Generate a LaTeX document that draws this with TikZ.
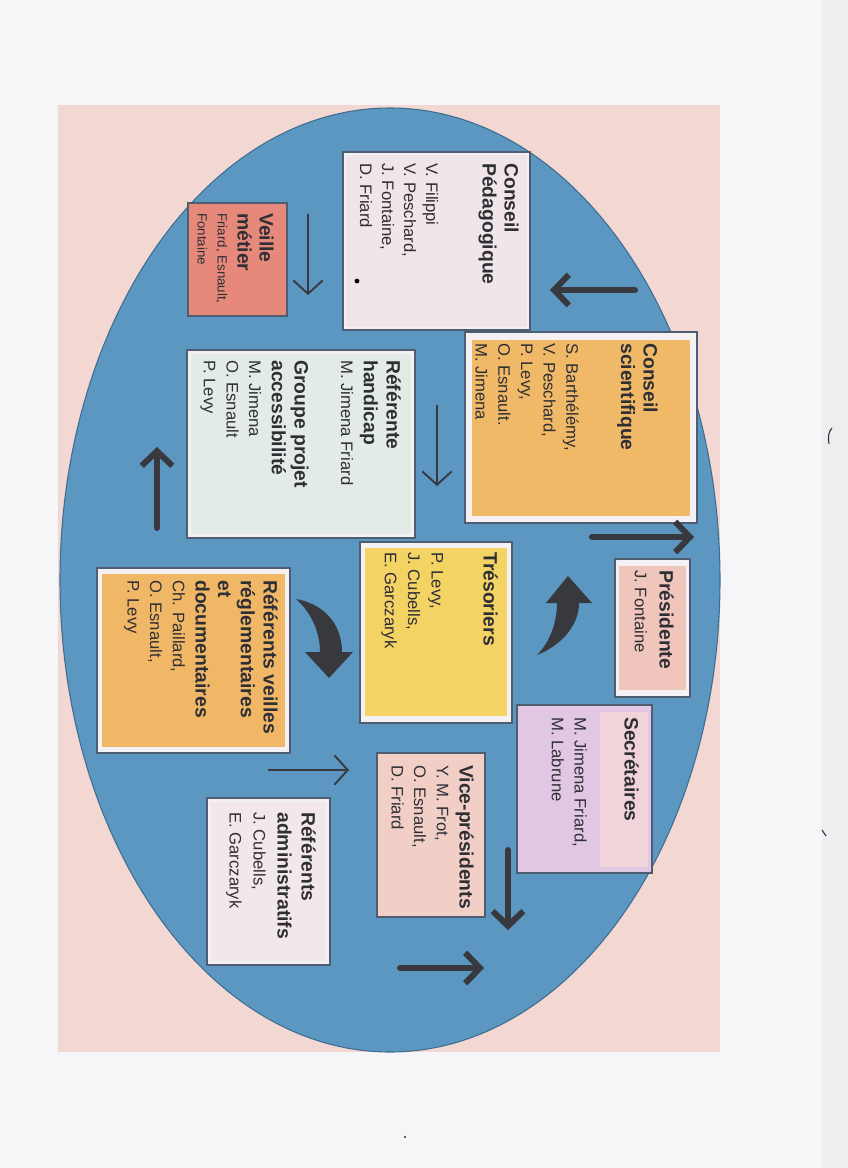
\documentclass[tikz,border=0pt]{standalone}
\usepackage{fontspec}
\setmainfont{Liberation Sans}
\usetikzlibrary{arrows.meta}
\definecolor{page}{HTML}{F6F6F8}
\definecolor{pageedge}{HTML}{EEEEF1}
\definecolor{pinkbg}{HTML}{F2D7D3}
\definecolor{ellfill}{HTML}{5B97C1}
\definecolor{elledge}{HTML}{3F6E91}
\definecolor{ink}{HTML}{2E2E35}
\definecolor{edge}{HTML}{4E5E70}
\definecolor{framew}{HTML}{F3F1F3}
\definecolor{cpfill}{HTML}{F0E5E8}
\definecolor{vmfill}{HTML}{E6897A}
\definecolor{csfill}{HTML}{F0B967}
\definecolor{rhfill}{HTML}{E3EBE6}
\definecolor{prfill}{HTML}{EFC5BC}
\definecolor{trfill}{HTML}{F4D365}
\definecolor{rvfill}{HTML}{F0B866}
\definecolor{sefill}{HTML}{E2C7E4}
\definecolor{sepink}{HTML}{F1D4D9}
\definecolor{vpfill}{HTML}{F2CFC6}
\definecolor{rafill}{HTML}{F2E8EA}
\definecolor{arrowc}{HTML}{38383F}
\newcommand\panel[6]{\node[#6, anchor=north west, inner sep=0pt, outer sep=0pt,
  minimum width={(#4-#2)*0.75pt}, minimum height={(#5-#3)*0.75pt}] (#1) at (#2,#3) {};}
\newcommand\ttl[1]{{\bfseries\fontsize{14.5}{16.5}\selectfont #1}}
\begin{document}
\begin{tikzpicture}[x=0.75pt,y=-0.75pt,
  txt/.style={rotate=-90, anchor=north west, inner sep=0pt, align=left, text=ink},
  boxline/.style={draw=edge, line width=0.8pt},
  bigarrow/.style={draw=arrowc, line width=4.5pt, line cap=round,
    -{Straight Barb[length=11pt,width=23pt,line width=4.5pt]}},
  thinarrow/.style={draw=arrowc, line width=1.4pt,
    -{Straight Barb[length=10pt,width=22pt,line width=1.4pt]}},
  curvearrow/.style={fill=arrowc, draw=none},
]
\useasboundingbox (0,0) rectangle (848,1168);
\fill[page] (0,0) rectangle (848,1168);
\fill[pageedge] (822,0) rectangle (848,1168);
\fill[pinkbg] (58,105) rectangle (720,1052);
\draw[elledge, fill=ellfill, line width=0.8pt] (390,580) ellipse [x radius=247.5pt, y radius=354pt];

% ---- boxes ----
\panel{cpbox}{343}{152}{530}{330}{boxline, fill=framew}
\panel{cpin}{346}{155}{527}{327}{fill=cpfill}
\panel{vmbox}{188}{203}{287}{316}{boxline, fill=vmfill}
\panel{csbox}{465}{332}{697}{523}{boxline, fill=framew}
\panel{csin}{472}{340}{690}{516}{fill=csfill}
\panel{rhbox}{187}{350}{415}{538}{boxline, fill=framew}
\panel{rhin}{191}{354}{411}{534}{fill=rhfill}
\panel{prbox}{615}{559}{690}{697}{boxline, fill=framew}
\panel{prin}{619}{566}{686}{690}{fill=prfill}
\panel{trbox}{360}{542}{512}{723}{boxline, fill=framew}
\panel{trin}{365}{548}{507}{716}{fill=trfill}
\panel{rvbox}{97}{568}{290}{753}{boxline, fill=framew}
\panel{rvin}{102}{574}{285}{747}{fill=rvfill}
\panel{sebox}{517}{705}{652}{873}{boxline, fill=sefill}
\panel{sepanel}{600}{712}{648}{867}{fill=sepink}
\panel{vpbox}{377}{753}{485}{917}{boxline, fill=vpfill}
\panel{rabox}{207}{798}{330}{965}{boxline, fill=framew}
\panel{rain}{211}{802}{326}{961}{fill=rafill}
\fill[black] (357,281) circle [radius=1.8pt];

% ---- texts ----
\node[txt, font=\fontsize{12.5}{16.5}\selectfont] (cp) at (519,163)
  {\ttl{Conseil}\\ \ttl{Pédagogique}\\[26pt] V. Filippi\\ V. Peschard,\\ J. Fontaine,\\ D. Friard};
\node[txt, font=\fontsize{10}{15}\selectfont] (vm) at (274,213)
  {\ttl{Veille}\\[1.5pt] \ttl{métier}\\ Friard, Esnault,\\ Fontaine};
\node[txt, font=\fontsize{12.5}{17}\selectfont] (cs) at (658,343)
  {\ttl{Conseil}\\ \ttl{scientifique}\\[24pt] S. Barthélémy,\\ V. Peschard,\\ P. Levy,\\ O. Esnault.\\ M. Jimena};
\node[txt, font=\fontsize{12.5}{17}\selectfont] (rh) at (401,360)
  {\ttl{Référente}\\ \ttl{handicap}\\ M. Jimena Friard\\[18pt] \ttl{Groupe projet}\\ \ttl{accessibilité}\\ M. Jimena\\ O. Esnault\\ P. Levy};
\node[txt, font=\fontsize{12.5}{18.5}\selectfont] (pr) at (674,570)
  {\ttl{Présidente}\\ J. Fontaine};
\node[txt, font=\fontsize{12.5}{17.5}\selectfont] (tr) at (498,552)
  {\ttl{Trésoriers}\\[21.5pt] P. Levy,\\ J. Cubells,\\ E. Garczaryk};
\node[txt, font=\fontsize{12.5}{17}\selectfont] (rv) at (278,580)
  {\ttl{Référents veilles}\\ \ttl{réglementaires}\\ \ttl{et}\\ \ttl{documentaires}\\ Ch. Paillard,\\ O. Esnault,\\ P. Levy};
\node[txt, font=\fontsize{12.5}{17}\selectfont] (se) at (639,717)
  {\ttl{Secrétaires}\\[20.5pt] M. Jimena Friard,\\ M. Labrune};
\node[txt, font=\fontsize{12.5}{17}\selectfont] (vp) at (474,765)
  {\ttl{Vice-présidents}\\ Y. M. Frot,\\ O. Esnault,\\ D. Friard};
\node[txt, font=\fontsize{12.5}{18}\selectfont] (ra) at (316,812)
  {\ttl{Référents}\\ \ttl{administratifs}\\ J. Cubells,\\ E. Garczaryk};

% ---- straight arrows ----
\coordinate (a1s) at (635,290); \coordinate (a1e) at (550,290);
\coordinate (a2s) at (592,537); \coordinate (a2e) at (694,537);
\coordinate (a3s) at (508,850); \coordinate (a3e) at (508,930);
\coordinate (a4s) at (400,968); \coordinate (a4e) at (484,968);
\coordinate (a5s) at (157,528); \coordinate (a5e) at (157,447);
\draw[bigarrow] (a1s) -- (a1e);
\draw[bigarrow] (a2s) -- (a2e);
\draw[bigarrow] (a3s) -- (a3e);
\draw[bigarrow] (a4s) -- (a4e);
\draw[bigarrow] (a5s) -- (a5e);
\coordinate (t1s) at (308,214); \coordinate (t1e) at (308,295);
\coordinate (t2s) at (437,405); \coordinate (t2e) at (437,486);
\coordinate (t3s) at (268,770); \coordinate (t3e) at (349,770);
\draw[thinarrow] (t1s) -- (t1e);
\draw[thinarrow] (t2s) -- (t2e);
\draw[thinarrow] (t3s) -- (t3e);

% ---- curved arrows ----
\fill[curvearrow] (537,655) .. controls (562,645) and (579,625) .. (579,603)
  -- (592,603) -- (568,576) -- (546,603) -- (557,603)
  .. controls (557,624) and (549,643) .. (537,655) -- cycle;
\fill[curvearrow] (296,599) .. controls (324,604) and (342,624) .. (342,652)
  -- (353,652) -- (329,678) -- (305,652) -- (320,652)
  .. controls (320,632) and (311,612) .. (296,599) -- cycle;

% ---- scan marks ----
\draw[ink, line width=0.8pt] (832,428) .. controls (828,432) and (828,438) .. (829,444);
\draw[ink, line width=0.8pt] (822,830) -- (826,836);
\fill[ink] (405,1137) circle [radius=0.9pt];
\end{tikzpicture}
\end{document}
